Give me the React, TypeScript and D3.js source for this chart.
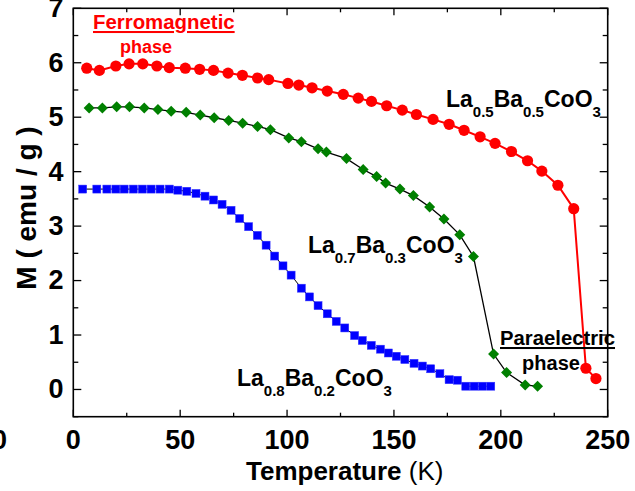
import React from 'react';
import * as d3 from 'd3';

// Axis ticks
const tempTicks = [0, 50, 100, 150, 200, 250];
const tempMinor = [25, 75, 125, 175, 225];
const momentTicks = [0, 1, 2, 3, 4, 5, 6, 7];
const momentMinor = [-0.5, 0.5, 1.5, 2.5, 3.5, 4.5, 5.5, 6.5];

// La0.5Ba0.5CoO3 (red circles)
const tempX05 = [6.3, 12.2, 19.9, 26.1, 32.5, 39.1, 44.9, 52.4, 59.1, 65.6, 72.4, 79.1, 86.2, 91.4, 100.4, 105.5, 111.7, 118.8, 126.3, 133.3, 139.5, 146.6, 153.9, 160.5, 168.3, 175.8, 182.8, 190.3, 197.3, 205.0, 212.5, 219.2, 226.7, 234.1, 239.8, 244.5];
const momentX05 = [5.90, 5.86, 5.94, 5.98, 5.98, 5.94, 5.91, 5.90, 5.88, 5.86, 5.81, 5.77, 5.72, 5.69, 5.62, 5.59, 5.54, 5.48, 5.42, 5.35, 5.29, 5.21, 5.13, 5.05, 4.96, 4.87, 4.76, 4.64, 4.52, 4.37, 4.20, 4.01, 3.75, 3.32, 0.39, 0.20];

// La0.7Ba0.3CoO3 (green diamonds)
const tempX03 = [7.4, 13.6, 20.3, 26.3, 33.2, 39.6, 45.8, 52.8, 59.4, 65.9, 72.7, 79.2, 86.2, 92.2, 100.8, 106.7, 114.5, 118.4, 127.8, 135.6, 141.9, 146.1, 152.8, 159.1, 166.7, 173.4, 180.8, 187.2, 196.6, 202.7, 211.4, 217.2];
const momentX03 = [5.17, 5.17, 5.19, 5.19, 5.17, 5.14, 5.11, 5.09, 5.04, 4.99, 4.94, 4.89, 4.83, 4.77, 4.62, 4.55, 4.42, 4.36, 4.24, 4.04, 3.91, 3.79, 3.68, 3.56, 3.35, 3.13, 2.84, 2.44, 0.65, 0.31, 0.08, 0.06];

// La0.8Ba0.2CoO3 (blue squares)
const tempX02 = [4.4, 11.0, 15.7, 19.9, 23.8, 28.1, 32.3, 36.4, 40.6, 44.9, 48.9, 53.1, 57.4, 61.6, 65.6, 69.6, 73.8, 77.8, 82.0, 86.1, 90.2, 94.2, 98.1, 101.9, 106.7, 110.5, 114.5, 118.8, 123.0, 127.0, 131.6, 135.2, 139.4, 143.7, 147.4, 151.1, 155.1, 159.4, 163.3, 167.2, 171.5, 175.8, 179.7, 183.6, 187.5, 191.4, 195.3];
const momentX02 = [3.68, 3.68, 3.68, 3.68, 3.68, 3.68, 3.68, 3.68, 3.68, 3.68, 3.66, 3.64, 3.60, 3.55, 3.48, 3.40, 3.29, 3.14, 2.99, 2.83, 2.65, 2.45, 2.27, 2.10, 1.86, 1.70, 1.54, 1.39, 1.25, 1.13, 0.99, 0.90, 0.81, 0.74, 0.67, 0.61, 0.55, 0.48, 0.43, 0.38, 0.29, 0.18, 0.17, 0.06, 0.06, 0.06, 0.06];

const W = 635;
const H = 491;
const FONT = '"Liberation Sans", Arial, Helvetica, sans-serif';

const zip = (a: number[], b: number[]): [number, number][] => a.map((v, i) => [v, b[i]]);

function Formula({ x, y, parts, main = 23, sub = 15, shift = 10 }: { x: number; y: number; parts: string[]; main?: number; sub?: number; shift?: number }) {
  return (
    <text x={x} y={y} fontFamily={FONT} fontWeight="bold" fontSize={main} fill="#000">
      {parts.map((p, i) =>
        i % 2 === 0 ? (
          <tspan key={i} fontSize={main} dy={i === 0 ? 0 : -shift}>{p}</tspan>
        ) : (
          <tspan key={i} fontSize={sub} dy={shift}>{p}</tspan>
        )
      )}
    </text>
  );
}

export default function App() {
  const x = d3.scaleLinear().domain([0, 250]).range([73.3, 607.7]);
  const y = d3.scaleLinear().domain([-0.5, 7]).range([416.7, 8.3]);
  const [x0, x1] = x.range();
  const [y0, y1] = y.range();

  const line = d3.line<[number, number]>().x(d => x(d[0])).y(d => y(d[1]));

  const red = zip(tempX05, momentX05);
  const green = zip(tempX03, momentX03);
  const blue = zip(tempX02, momentX02);

  const diamond = (cx: number, cy: number, r: number) =>
    `M${cx},${cy - r}L${cx + r},${cy}L${cx},${cy + r}L${cx - r},${cy}Z`;

  return (
    <svg width={W} height={H} viewBox={`0 0 ${W} ${H}`} style={{ position: 'absolute', left: 0, top: 0, background: '#fff' }}>
      <rect x={0} y={0} width={W} height={H} fill="#fff" />

      {/* connecting lines */}
      <path d={line(blue) || ''} fill="none" stroke="#000" strokeWidth={1} />
      <path d={line(green) || ''} fill="none" stroke="#000" strokeWidth={1.3} />
      <path d={line(red) || ''} fill="none" stroke="#ff0000" strokeWidth={2} />

      {/* markers */}
      {blue.map((d, i) => (
        <rect key={`b${i}`} x={x(d[0]) - 4} y={y(d[1]) - 4} width={8} height={8} fill="#0000ff" stroke="#3333ff" strokeWidth={0.5} />
      ))}
      {green.map((d, i) => (
        <path key={`g${i}`} d={diamond(x(d[0]), y(d[1]), 5.5)} fill="#008000" />
      ))}
      {red.map((d, i) => (
        <circle key={`r${i}`} cx={x(d[0])} cy={y(d[1])} r={5.6} fill="#ff0000" />
      ))}

      {/* frame */}
      <rect x={x0} y={y1} width={x1 - x0} height={y0 - y1} fill="none" stroke="#000" strokeWidth={1.6} />

      {/* x ticks (inward, bottom and top) */}
      {tempTicks.map(t => (
        <g key={`xt${t}`}>
          <line x1={x(t)} x2={x(t)} y1={y0} y2={y0 - 7} stroke="#000" strokeWidth={1.3} />
          <line x1={x(t)} x2={x(t)} y1={y1} y2={y1 + 7} stroke="#000" strokeWidth={1.3} />
          <text x={x(t)} y={449} textAnchor="middle" fontFamily={FONT} fontWeight="bold" fontSize={27}>{t}</text>
        </g>
      ))}
      {tempMinor.map(t => (
        <g key={`xm${t}`}>
          <line x1={x(t)} x2={x(t)} y1={y0} y2={y0 - 4} stroke="#000" strokeWidth={1.3} />
          <line x1={x(t)} x2={x(t)} y1={y1} y2={y1 + 4} stroke="#000" strokeWidth={1.3} />
        </g>
      ))}
      <text x={7} y={449} textAnchor="end" fontFamily={FONT} fontWeight="bold" fontSize={27}>0</text>

      {/* y ticks (inward, left and right) */}
      {momentTicks.map(t => (
        <g key={`yt${t}`}>
          <line x1={x0} x2={x0 + 8} y1={y(t)} y2={y(t)} stroke="#000" strokeWidth={1.3} />
          <line x1={x1} x2={x1 - 8} y1={y(t)} y2={y(t)} stroke="#000" strokeWidth={1.3} />
          <text x={63.5} y={y(t)} dy="0.33em" textAnchor="end" fontFamily={FONT} fontWeight="bold" fontSize={27}>{t}</text>
        </g>
      ))}
      {momentMinor.map(t => (
        <g key={`ym${t}`}>
          <line x1={x0} x2={x0 + 5} y1={y(t)} y2={y(t)} stroke="#000" strokeWidth={1.3} />
          <line x1={x1} x2={x1 - 5} y1={y(t)} y2={y(t)} stroke="#000" strokeWidth={1.3} />
        </g>
      ))}

      {/* axis titles */}
      <text transform="translate(36,208) rotate(-90)" textAnchor="middle" fontFamily={FONT} fontWeight="bold" fontSize={28}>M ( emu / g )</text>
      <text x={246} y={480} fontFamily={FONT} fontSize={26}>
        <tspan fontWeight="bold">Temperature</tspan>
        <tspan fontWeight="normal"> (K)</tspan>
      </text>

      {/* phase annotations */}
      <text x={93} y={29} fontFamily={FONT} fontWeight="bold" fontSize={20.4} fill="#ff0000" textDecoration="underline">Ferromagnetic</text>
      <text x={146} y={53} textAnchor="middle" fontFamily={FONT} fontWeight="bold" fontSize={18} fill="#ff0000">phase</text>
      <text x={500} y={345} fontFamily={FONT} fontWeight="bold" fontSize={20.3} fill="#000" textDecoration="underline">Paraelectric</text>
      <text x={551} y={370} textAnchor="middle" fontFamily={FONT} fontWeight="bold" fontSize={20} fill="#000">phase</text>

      {/* compound labels */}
      <Formula x={446} y={107} parts={['La', '0.5', 'Ba', '0.5', 'CoO', '3']} />
      <Formula x={308} y={253} parts={['La', '0.7', 'Ba', '0.3', 'CoO', '3']} />
      <Formula x={237} y={386} parts={['La', '0.8', 'Ba', '0.2', 'CoO', '3']} />
    </svg>
  );
}
